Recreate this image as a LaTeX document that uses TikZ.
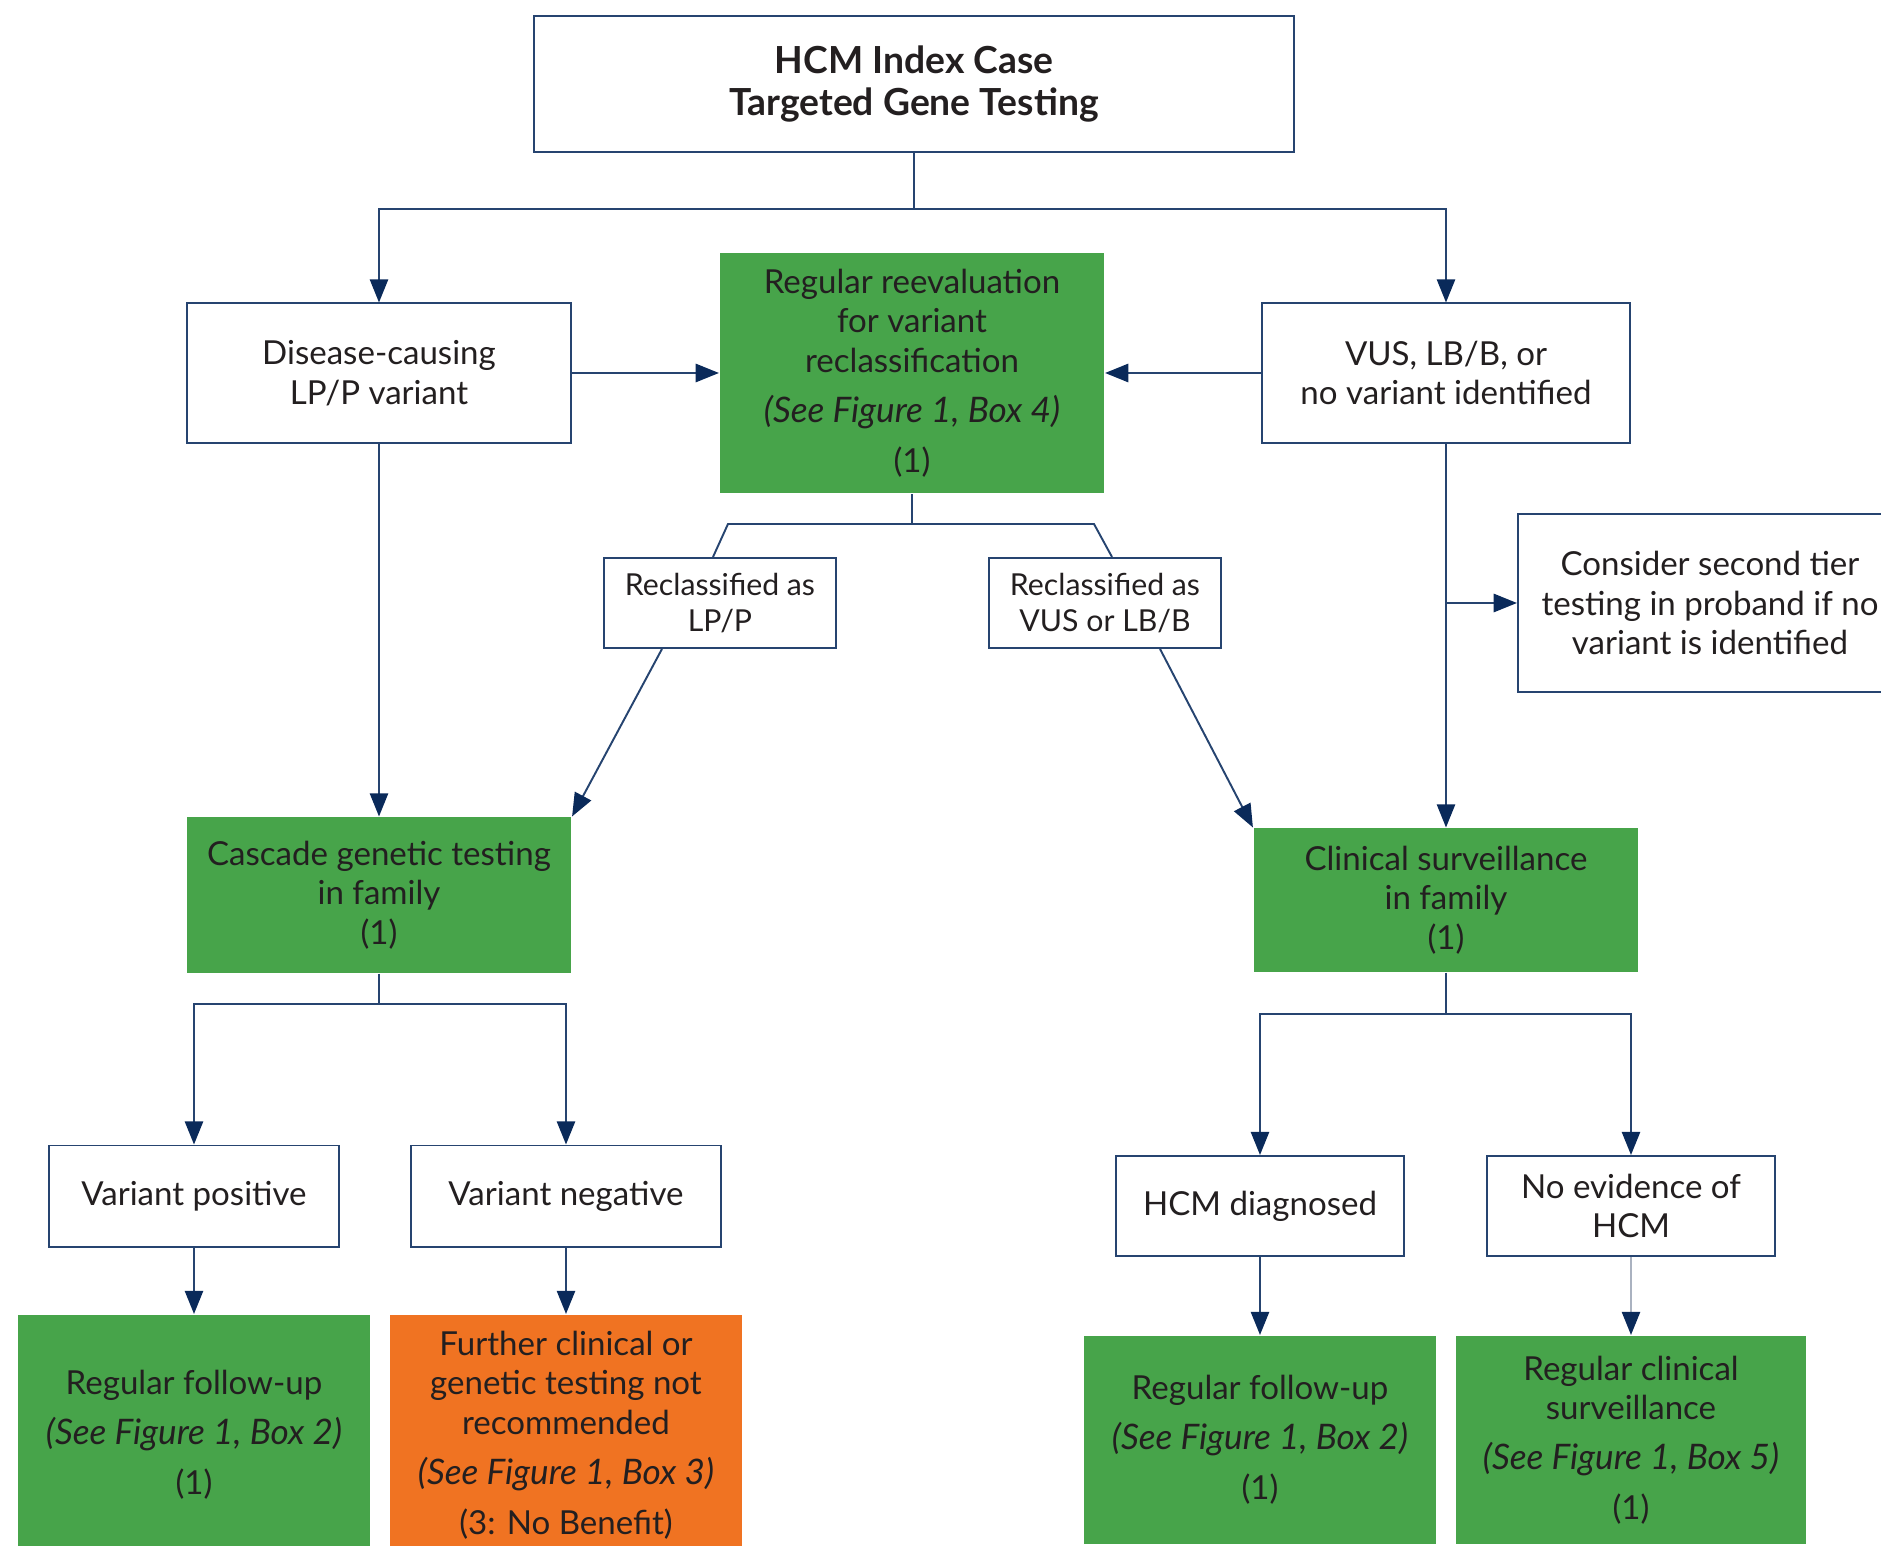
\documentclass[tikz,border=0pt]{standalone}
\usepackage{fontspec}
\setmainfont{Lato}
\usepackage{tikz}
\usetikzlibrary{arrows.meta}

\definecolor{navy}{RGB}{38,68,112}
\definecolor{tipcol}{RGB}{10,42,90}
\definecolor{pale}{RGB}{170,178,192}
\definecolor{txt}{RGB}{35,31,32}
\definecolor{grn}{RGB}{71,164,74}
\definecolor{org}{RGB}{240,115,34}

\newcommand{\seefig}[1]{{\fontsize{10}{12}\selectfont\itshape (See Figure 1, Box #1)}}

\begin{document}
\begin{tikzpicture}[x=0.01cm, y=-0.01cm,
	line width=0.55pt, navy,
	every node/.style={text=txt, align=center, inner sep=0pt, font=\fontsize{9.4}{11.2}\selectfont},
	box/.style={draw=navy, fill=white},
	gbox/.style={fill=grn},
	obox/.style={fill=org},
	small/.style={font=\fontsize{8.6}{10.2}\selectfont},
	arr/.style={-{Triangle[length=6.6pt,width=5.2pt,color=tipcol]}}]
	\clip (0,0) rectangle (1881,1546);
	%\draw[help lines] (0,0) grid (1881,1546);

	\node[box, minimum width=7.60cm, minimum height=1.35cm, font=\fontsize{10.6}{12}\selectfont\bfseries] (top) at (914,84) {HCM Index Case\\Targeted Gene Testing};

	\node[box, minimum width=3.84cm, minimum height=1.39cm] (dis) at (379,373) {Disease-causing\\LP/P variant};
	\node[gbox, minimum width=3.84cm, minimum height=2.40cm] (reev) at (912,373) {Regular reevaluation\\for variant\\reclassification\\[3pt]\seefig{4}\\[3pt](1)};
	\node[box, minimum width=3.68cm, minimum height=1.39cm] (vus) at (1446,373) {VUS, LB/B, or\\no variant identified};

	\node[box, small, minimum width=2.31cm, minimum height=0.90cm] (lpp) at (720,603) {Reclassified as\\LP/P};
	\node[box, small, minimum width=2.31cm, minimum height=0.90cm] (vre) at (1105,603) {Reclassified as\\VUS or LB/B};
	\node[box, minimum width=3.84cm, minimum height=1.77cm] (con) at (1710,603) {Consider second tier\\testing in proband if no\\variant is identified};

	\node[gbox, minimum width=3.84cm, minimum height=1.55cm] (cas) at (379,895) {Cascade genetic testing\\in family\\(1)};
	\node[gbox, minimum width=3.84cm, minimum height=1.43cm] (cli) at (1446,900) {Clinical surveillance\\in family\\(1)};

	\node[box, minimum width=2.89cm, minimum height=1.01cm] (vpos) at (194,1196) {Variant positive};
	\node[box, minimum width=3.09cm, minimum height=1.01cm] (vneg) at (566,1196) {Variant negative};
	\node[box, minimum width=2.87cm, minimum height=1.00cm] (hcm) at (1260,1206) {HCM diagnosed};
	\node[box, minimum width=2.87cm, minimum height=1.00cm] (noev) at (1631,1206) {No evidence of\\HCM};

	\node[gbox, minimum width=3.52cm, minimum height=2.40cm] (fol1) at (194,1435) {Regular follow-up\\[3pt]\seefig{2}\\[3pt](1)};
	\node[obox, minimum width=3.52cm, minimum height=2.40cm] (furt) at (566,1435) {Further clinical or\\genetic testing not\\recommended\\[3pt]\seefig{3}\\[3pt](3: No Benefit)};
	\node[gbox, minimum width=3.51cm, minimum height=2.08cm] (fol2) at (1260,1440) {Regular follow-up\\[3pt]\seefig{2}\\[3pt](1)};
	\node[gbox, minimum width=3.49cm, minimum height=2.08cm] (surv) at (1631,1440) {Regular clinical\\surveillance\\[3pt]\seefig{5}\\[3pt](1)};

	% first split
	\coordinate (tb) at (914,209);
	\draw[arr] (top.south) -- (tb) -| (dis.north);
	\draw[arr] (tb) -| (vus.north);
	\draw[arr] (dis.east) -- (reev.west);
	\draw[arr] (vus.west) -- (reev.east);

	% reclassification
	\coordinate (rb) at (912,524);
	\coordinate (rl) at (728,524);
	\coordinate (rr) at (1094,524);
	\draw (reev.south) -- (rb);
	\draw ([xshift=-0.07cm]lpp.north) -- (rl) -- (rr) -- ([xshift=0.07cm]vre.north);
	\draw[arr] ([xshift=-0.58cm]lpp.south) -- (cas.north east);
	\draw[arr] ([xshift=0.55cm]vre.south) -- (cli.north west);

	\draw[arr] (dis.south) -- (cas.north);
	\draw[arr] (vus.south) -- (cli.north);
	\draw[arr] (vus.south |- con.west) -- (con.west);

	% family
	\coordinate (cb) at (379,1004);
	\draw[arr] (cas.south) -- (cb) -| (vpos.north);
	\draw[arr] (cb) -| (vneg.north);
	\coordinate (clb) at (1446,1014);
	\draw[arr] (cli.south) -- (clb) -| (hcm.north);
	\draw[arr] (clb) -| (noev.north);

	\draw[arr] (vpos.south) -- (fol1.north);
	\draw[arr] (vneg.south) -- (furt.north);
	\draw[arr] (hcm.south) -- (fol2.north);
	\draw[arr, pale] (noev.south) -- (surv.north);
\end{tikzpicture}
\end{document}
